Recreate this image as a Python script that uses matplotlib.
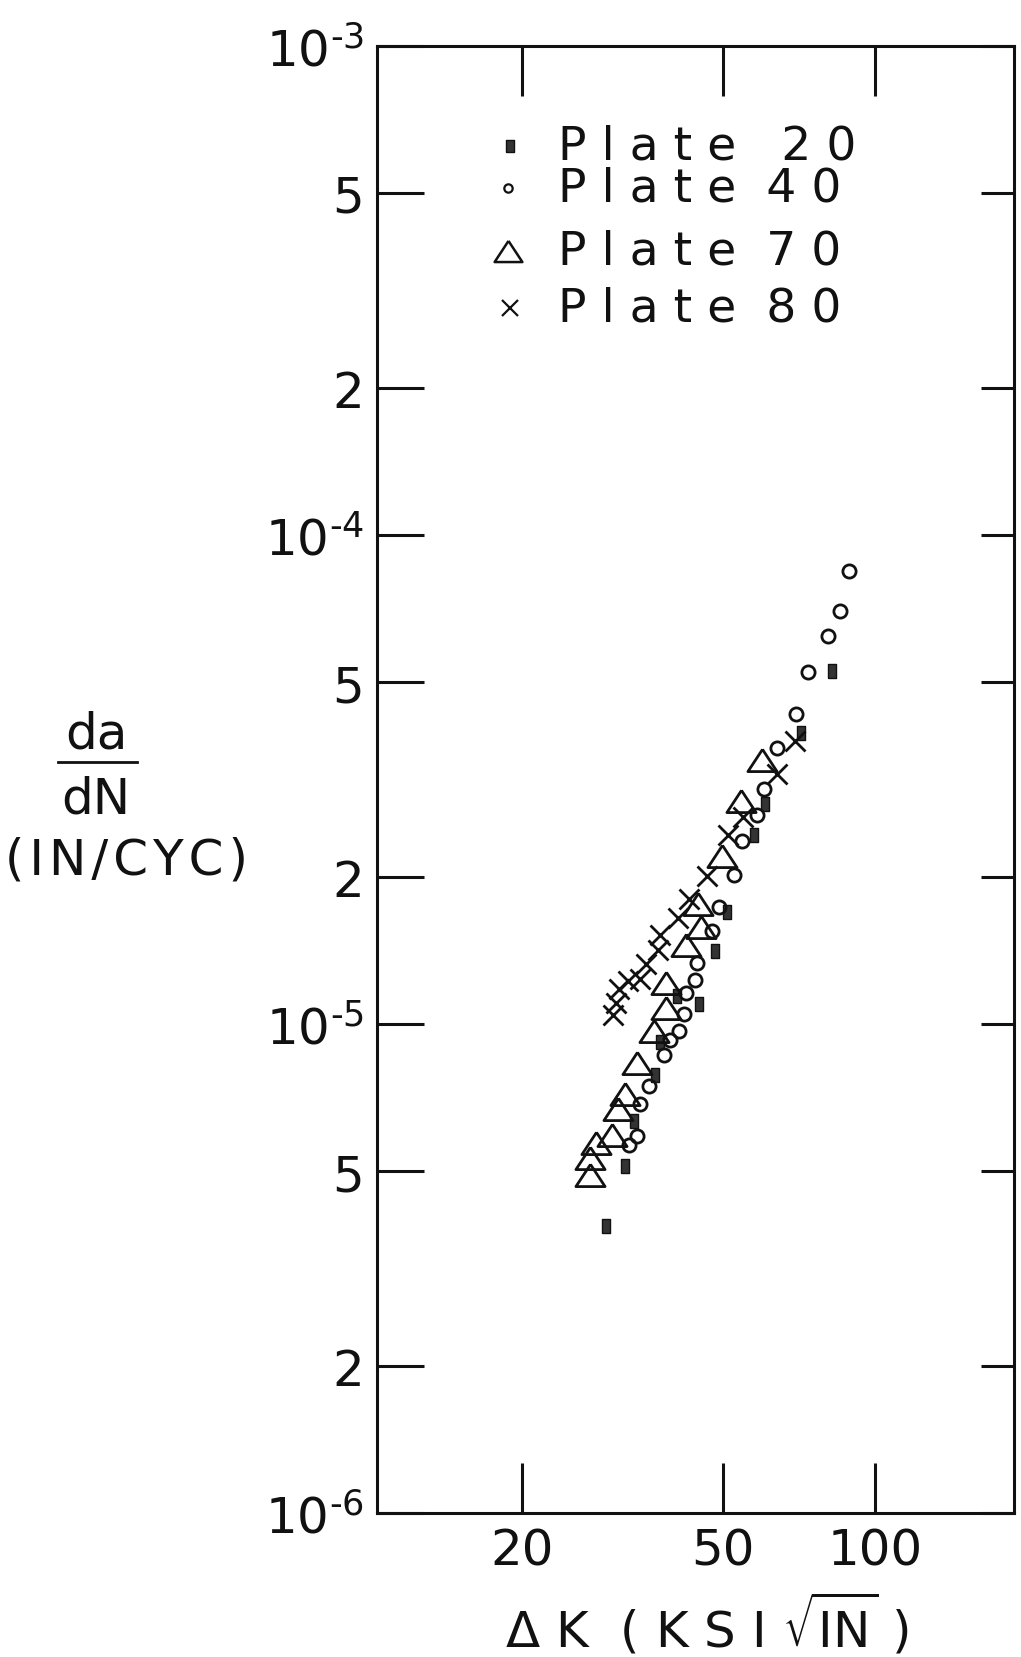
import numpy as np
import matplotlib
matplotlib.use("Agg")
from matplotlib import pyplot as plt
from matplotlib.ticker import FixedLocator, FixedFormatter, NullLocator

# Plate 20 (squares)
p20_dk = [82.1, 71.3, 60.6, 57.4, 50.9, 48.2, 44.7, 40.5, 37.5, 36.7, 33.3, 32.0, 29.3]
p20_dadn = [5.27e-5, 3.93e-5, 2.82e-5, 2.43e-5, 1.69e-5, 1.41e-5, 1.10e-5, 1.14e-5,
            9.17e-6, 7.85e-6, 6.32e-6, 5.13e-6, 3.86e-6]

# Plate 40 (circles)
p40_dk = [88.5, 85.2, 80.4, 73.6, 69.7, 64.0, 60.3, 58.3, 54.5, 52.6, 49.0, 47.5,
          44.4, 44.0, 42.1, 41.7, 40.9, 39.3, 38.1, 35.6, 34.2, 33.7, 32.6]
p40_dadn = [8.45e-5, 7.00e-5, 6.22e-5, 5.23e-5, 4.30e-5, 3.67e-5, 3.02e-5, 2.67e-5,
            2.36e-5, 2.02e-5, 1.73e-5, 1.55e-5, 1.33e-5, 1.23e-5, 1.157e-5, 1.05e-5,
            9.68e-6, 9.26e-6, 8.62e-6, 7.45e-6, 6.86e-6, 5.91e-6, 5.66e-6]

# Plate 70 (triangles)
p70_dk = [59.6, 54.2, 49.7, 44.5, 45.2, 42.2, 38.5, 38.5, 36.4, 33.8, 31.9, 30.9,
          30.1, 28.0, 27.2, 27.2]
p70_dadn = [3.46e-5, 2.86e-5, 2.20e-5, 1.758e-5, 1.576e-5, 1.453e-5, 1.21e-5, 1.076e-5,
            9.69e-6, 8.31e-6, 7.19e-6, 6.71e-6, 5.92e-6, 5.72e-6, 5.33e-6, 4.90e-6]

# Plate 80 (crosses)
p80_dk = [69.4, 63.9, 54.6, 51.0, 46.5, 42.7, 40.7, 37.5, 37.2, 35.2, 34.2, 32.4,
          31.1, 30.6, 30.3]
p80_dadn = [3.78e-5, 3.25e-5, 2.65e-5, 2.43e-5, 2.01e-5, 1.796e-5, 1.65e-5, 1.517e-5,
            1.419e-5, 1.325e-5, 1.238e-5, 1.225e-5, 1.176e-5, 1.103e-5, 1.042e-5]

legend_labels = ["P l a t e   2 0", "P l a t e  4 0", "P l a t e  7 0", "P l a t e  8 0"]

x_ticks = [20, 50, 100]
x_ticklabels = ["20", "50", "100"]
y_ticks = [1e-3, 5e-4, 2e-4, 1e-4, 5e-5, 2e-5, 1e-5, 5e-6, 2e-6, 1e-6]
y_ticklabels = ["$10^{\u20103}$", "5", "2", "$10^{\u20104}$", "5", "2",
                "$10^{\u20105}$", "5", "2", "$10^{\u20106}$"]

FONT = ["DejaVu Sans"]
plt.rcParams["font.family"] = FONT
plt.rcParams["mathtext.fontset"] = "dejavusans"

FS = 36
INK = "#111111"
HS = "\u200a"

sq = [(-0.6, -1), (0.6, -1), (0.6, 1), (-0.6, 1), (-0.6, -1)]
tri = [(0, 0.76), (-1, -0.76), (1, -0.76), (0, 0.76)]


def main():
    fig = plt.figure(figsize=(10.21, 16.58), dpi=100)
    ax = fig.add_axes([0.369, 0.0869, 0.624, 0.8849])

    ax.set_xscale("log")
    ax.set_yscale("log")
    ax.set_xlim(10.3, 188)
    ax.set_ylim(1e-6, 1e-3)

    ax.plot(p20_dk, p20_dadn, ls="none", marker=sq, ms=10, mfc="#333333", mec=INK, mew=1)
    ax.plot(p40_dk, p40_dadn, ls="none", marker="o", ms=9.5, mfc="none", mec=INK, mew=2)
    ax.plot(p70_dk, p70_dadn, ls="none", marker=tri, ms=21, mfc="none", mec=INK, mew=2)
    ax.plot(p80_dk, p80_dadn, ls="none", marker="x", ms=14, mec=INK, mew=2)

    # legend drawn by hand
    leg_y = [0.932, 0.903, 0.860, 0.821]
    ax.plot([0.209], [leg_y[0]], transform=ax.transAxes, marker=sq, ms=9, mfc="#333333", mec=INK, mew=1, clip_on=False)
    ax.plot([0.206], [leg_y[1]], transform=ax.transAxes, marker="o", ms=6, mfc="none", mec=INK, mew=1.6, clip_on=False)
    ax.plot([0.206], [leg_y[2]], transform=ax.transAxes, marker=tri, ms=20, mfc="none", mec=INK, mew=1.8, clip_on=False)
    ax.plot([0.209], [leg_y[3]], transform=ax.transAxes, marker="x", ms=11, mec=INK, mew=1.6, clip_on=False)
    for yy, lab in zip(leg_y, legend_labels):
        ax.text(0.285, yy, lab, transform=ax.transAxes, fontsize=34, va="center", ha="left", color=INK)

    for s in ax.spines.values():
        s.set_linewidth(2.2)
        s.set_color(INK)

    ax.xaxis.set_major_locator(FixedLocator(x_ticks))
    ax.xaxis.set_major_formatter(FixedFormatter(x_ticklabels))
    ax.xaxis.set_minor_locator(NullLocator())
    ax.yaxis.set_major_locator(FixedLocator(y_ticks))
    ax.yaxis.set_major_formatter(FixedFormatter(y_ticklabels))
    ax.yaxis.set_minor_locator(NullLocator())

    ax.tick_params(axis="x", which="major", direction="in", top=True, bottom=True,
                   length=36, width=2.2, color=INK, labelsize=FS, pad=10, labelcolor=INK)
    ax.tick_params(axis="y", which="major", direction="in", left=True, right=False,
                   length=34, width=2.2, color=INK, labelsize=FS, pad=9, labelcolor=INK)

    ax2 = ax.twinx()
    ax2.set_yscale("log")
    ax2.set_ylim(1e-6, 1e-3)
    ax2.yaxis.set_major_locator(FixedLocator(y_ticks))
    ax2.yaxis.set_minor_locator(NullLocator())
    ax2.tick_params(axis="y", which="major", direction="in", length=24, width=2.2,
                    color=INK, labelright=False)
    for s in ax2.spines.values():
        s.set_visible(False)

    # y label as a fraction
    fig.text(0.094, 0.5567, "da", fontsize=FS, ha="center", va="center", color=INK)
    fig.add_artist(plt.Line2D([0.0568, 0.1342], [0.5398, 0.5398], color=INK, lw=2))
    fig.text(0.094, 0.5175, "dN", fontsize=FS, ha="center", va="center", color=INK)
    fig.text(0.124, 0.4807, HS.join("(IN/CYC)"), fontsize=FS, ha="center", va="center", color=INK)

    fig.text(0.693, 0.021, r"$\Delta$ K  ( K S I $\sqrt{\mathrm{IN}}$ )", fontsize=FS,
             ha="center", va="center", color=INK)

    fig.savefig("out.png", dpi=100, facecolor="white")


if __name__ == "__main__":
    main()
